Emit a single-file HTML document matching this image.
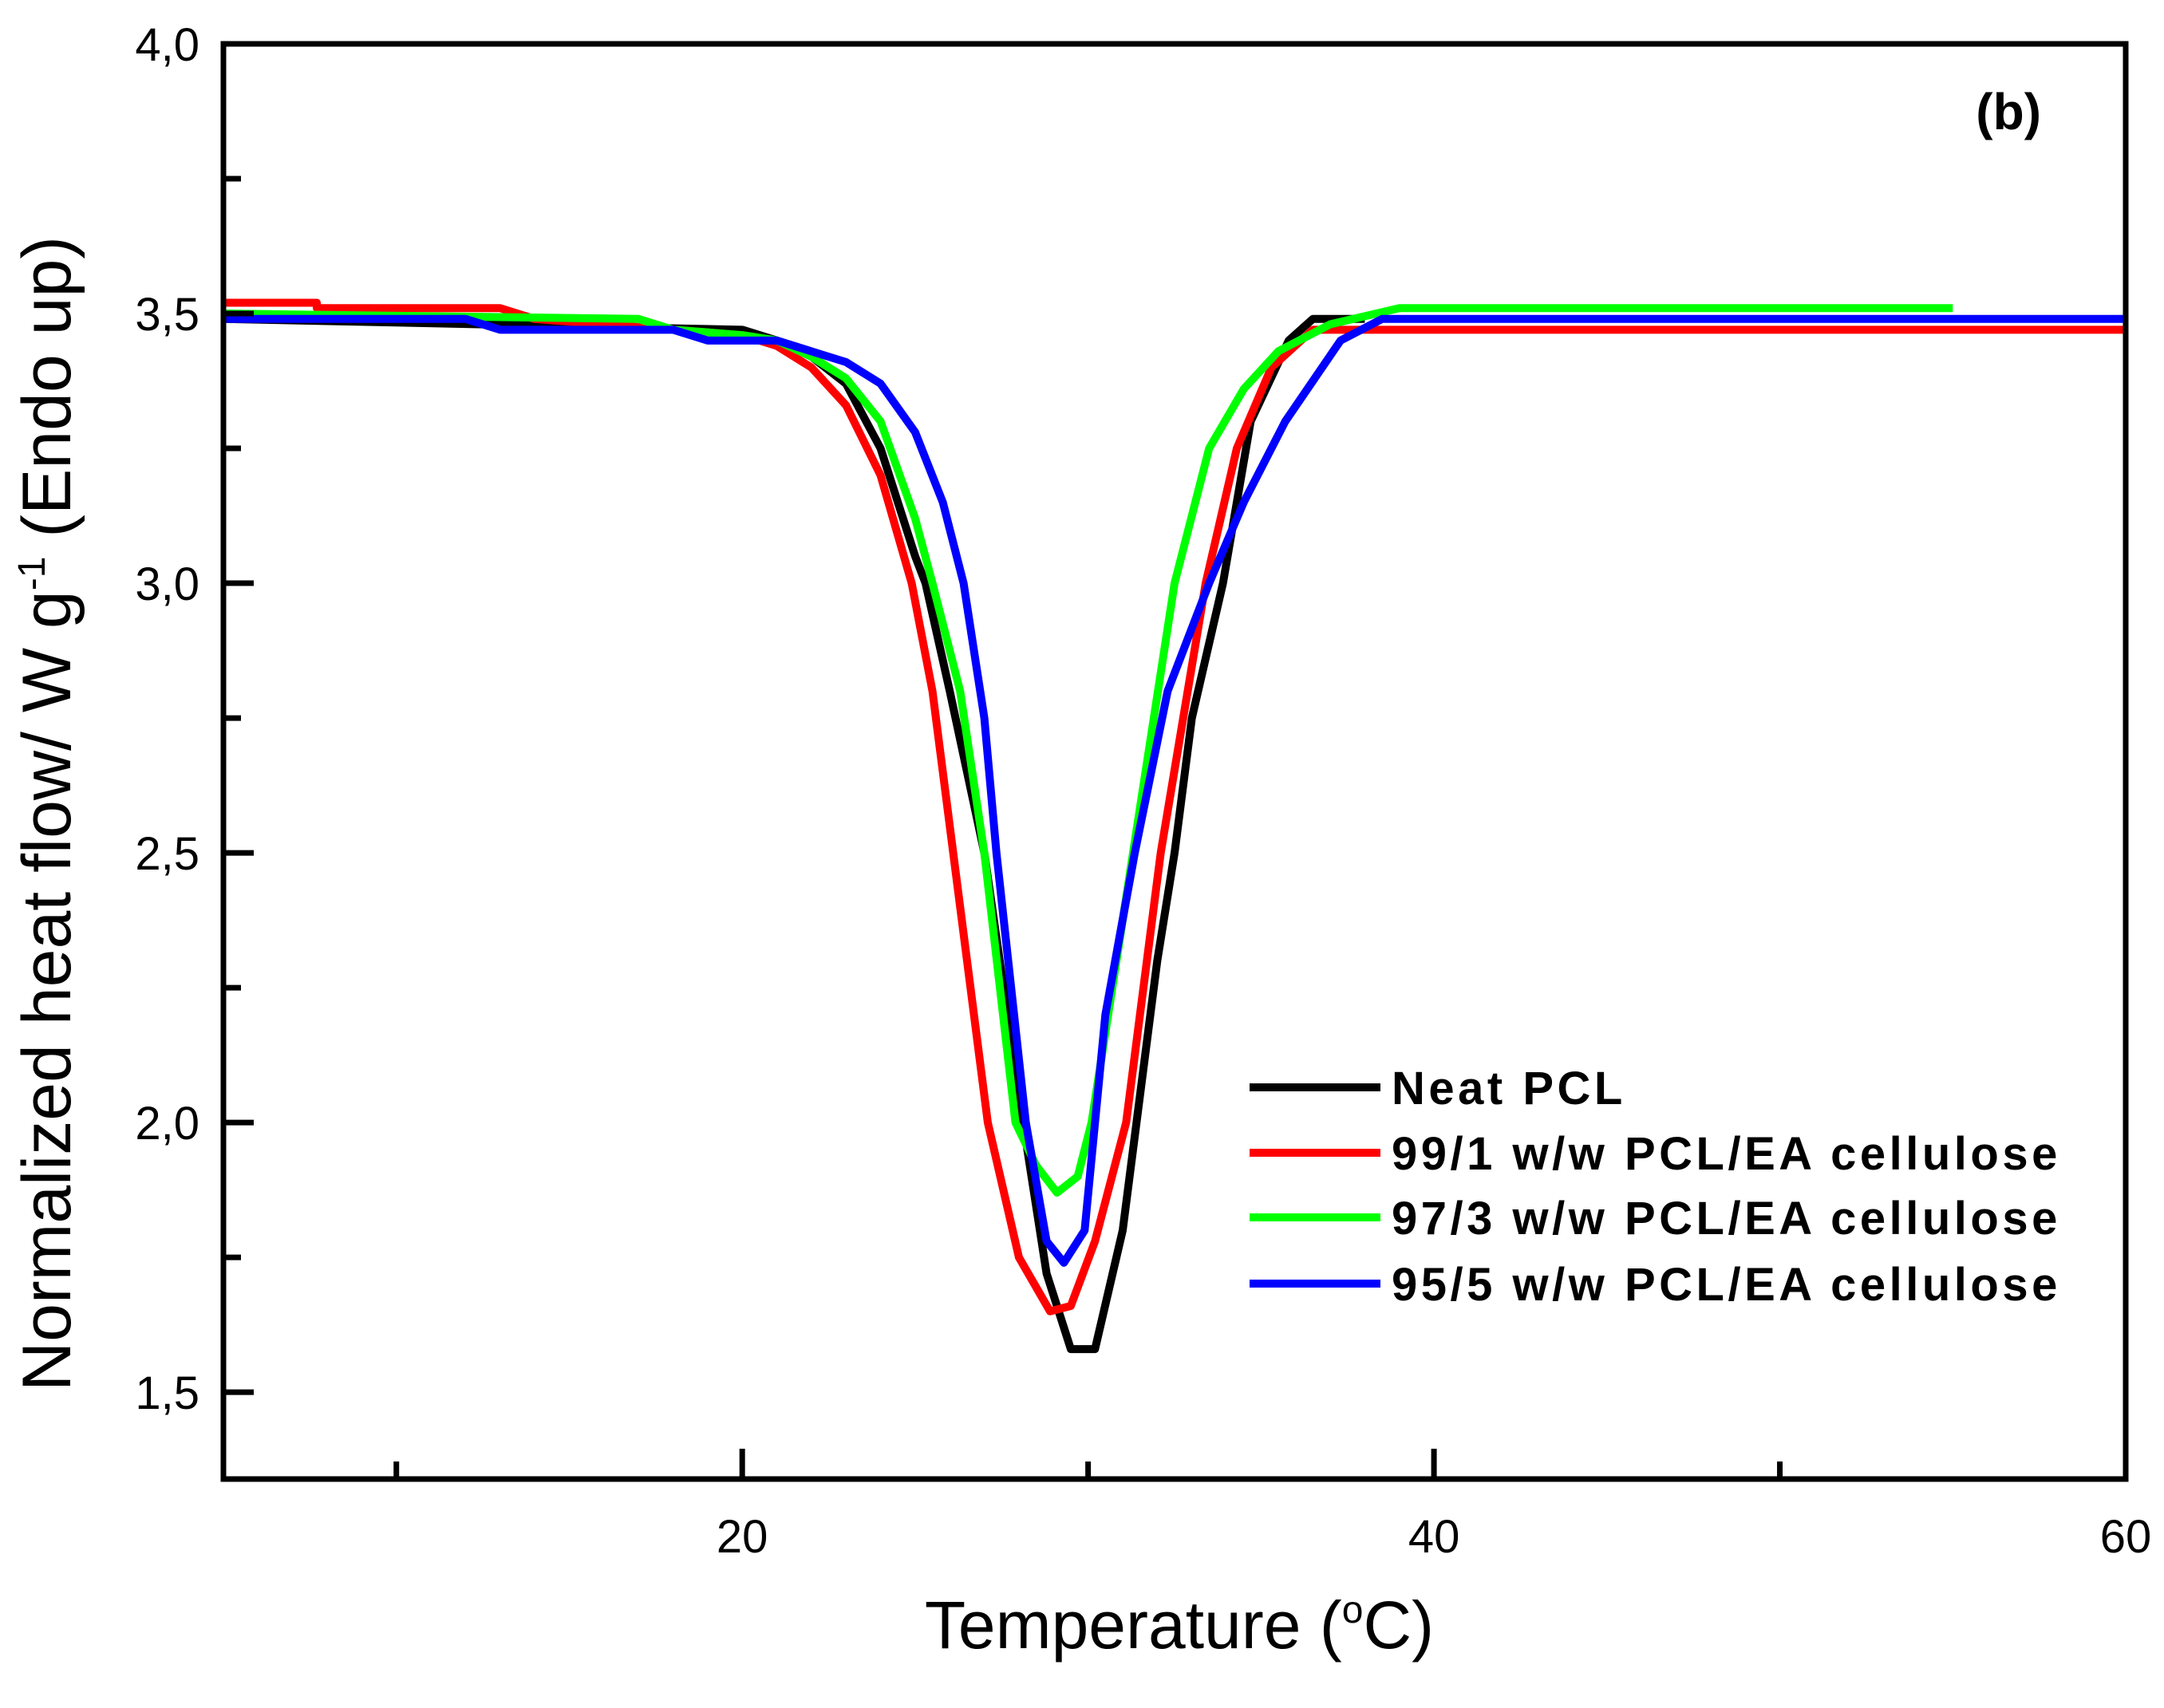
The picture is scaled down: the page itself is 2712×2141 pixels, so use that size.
<!DOCTYPE html>
<html><head><meta charset="utf-8"><style>
html,body{margin:0;padding:0;background:#fff;}
svg{display:block;font-family:"Liberation Sans",Arial,sans-serif;}
</style></head><body>
<svg id="chart" width="2712" height="2141" viewBox="0 0 2712 2141">
<g id="plot"></g>
</svg>
<script>
const xTicksMajor=[20,40,60];
const xTicksMinor=[10,30,50];
const yTicksMajor=[1.5,2.0,2.5,3.0,3.5,4.0];
const yTickLabels=["1,5","2,0","2,5","3,0","3,5","4,0"];
const yTicksMinor=[1.75,2.25,2.75,3.25,3.75];
const seriesNames=["Neat PCL","99/1 w/w PCL/EA cellulose","97/3 w/w PCL/EA cellulose","95/5 w/w PCL/EA cellulose"];
const seriesColors=["#000000","#ff0000","#00ff00","#0000ff"];
const blackT=[5,20,21,22,23,24,25,25.3,26,27,28,28.8,29.5,30.2,31,32,32.5,33,33.9,34.7,35.8,36.5,38];
const blackY=[3.49,3.47,3.45,3.42,3.37,3.25,3.05,3.0,2.8,2.5,2.05,1.72,1.58,1.58,1.8,2.3,2.5,2.75,3.0,3.3,3.45,3.49,3.49];
const redT=[5,7.7,7.7,13,14,20,21,22,23,24,24.9,25.5,26.1,27.1,28,28.9,29.5,30.2,31.1,32.1,33.4,34.3,35.3,36.5,38.5,60];
const redY=[3.52,3.52,3.51,3.51,3.49,3.46,3.44,3.4,3.33,3.2,3.0,2.8,2.5,2.0,1.75,1.65,1.66,1.78,2.0,2.5,3.0,3.25,3.4,3.47,3.47,3.47];
const greenT=[5,17,18,20,21,22,23,24,25,25.5,26.3,27,27.9,28.5,29.1,29.7,30.1,30.7,31.3,32.5,33.5,34.5,35.5,37,39,55];
const greenY=[3.5,3.49,3.47,3.46,3.45,3.42,3.38,3.3,3.12,3.0,2.8,2.5,2.0,1.92,1.87,1.9,2.0,2.25,2.5,3.0,3.25,3.36,3.43,3.48,3.51,3.51];
const blueT=[5,12,13,18,19,21,22,23,24,25,25.8,26.4,27,27.35,28.2,28.8,29.3,29.9,30.5,31.35,32.3,33.5,34.5,35.7,37.3,38.5,60];
const blueY=[3.49,3.49,3.47,3.47,3.45,3.45,3.43,3.41,3.37,3.28,3.15,3.0,2.75,2.5,2.0,1.78,1.74,1.8,2.2,2.5,2.8,3.0,3.15,3.3,3.45,3.49,3.49];
const seriesT=[blackT,redT,greenT,blueT];
const seriesY=[blackY,redY,greenY,blueY];

const L=280,R=2664,T=55,B=1854,xmin=5,xmax=60,ymin=1.339,ymax=4.0;
const sx=v=>L+(v-xmin)/(xmax-xmin)*(R-L);
const sy=v=>B-(v-ymin)/(ymax-ymin)*(B-T);
const NS="http://www.w3.org/2000/svg";
const g=document.getElementById('plot');
function mk(tag,attrs,parent){const e=document.createElementNS(NS,tag);for(const k in attrs)e.setAttribute(k,attrs[k]);(parent||g).appendChild(e);return e;}

[0,1,2,3].forEach(i=>{
  const pts=seriesT[i].map((t,j)=>sx(t)+","+sy(seriesY[i][j])).join(" ");
  const p=mk('polyline',{points:pts,fill:"none",stroke:seriesColors[i],"stroke-width":10,"stroke-linejoin":"round"});
  
  
});

const fr=mk('rect',{x:L,y:T,width:R-L,height:B-T,fill:"none",stroke:"#000","stroke-width":7});



xTicksMajor.forEach(v=>{
  const l=mk('line',{x1:sx(v),x2:sx(v),y1:B,y2:B-38,stroke:"#000","stroke-width":7});
  
  
  const t=mk('text',{x:sx(v),y:B+92,"text-anchor":"middle","font-size":58});
  t.textContent=v;
  
  
});
xTicksMinor.forEach(v=>{
  const l=mk('line',{x1:sx(v),x2:sx(v),y1:B,y2:B-22,stroke:"#000","stroke-width":7});
  
  
});
yTicksMajor.forEach((v,i)=>{
  const l=mk('line',{x1:L,x2:L+38,y1:sy(v),y2:sy(v),stroke:"#000","stroke-width":7});
  
  
  const t=mk('text',{x:L-30,y:sy(v)+21,"text-anchor":"end","font-size":58});
  t.textContent=yTickLabels[i];
  
  
});
yTicksMinor.forEach(v=>{
  const l=mk('line',{x1:L,x2:L+22,y1:sy(v),y2:sy(v),stroke:"#000","stroke-width":7});
  
  
});

const xt=mk('text',{x:1478,y:2066,"text-anchor":"middle","font-size":84});
xt.innerHTML='Temperature (<tspan dy="-32" font-size="48">o</tspan><tspan dy="32">C)</tspan>';


const yt=mk('text',{transform:"translate(88,1020) rotate(-90)","text-anchor":"middle","font-size":86});
yt.innerHTML='Normalized heat flow/ W g<tspan dy="-32" font-size="48">-1</tspan><tspan dy="32">  (Endo up)</tspan>';



const pl=mk('text',{x:2558,y:162,"text-anchor":"end","font-size":64,"font-weight":"bold"});
pl.textContent='(b)';



const legY=[1363,1445,1526,1609];
seriesNames.forEach((n,i)=>{
  const l=mk('line',{x1:1566,x2:1730,y1:legY[i],y2:legY[i],stroke:seriesColors[i],"stroke-width":10});
  
  
  const t=mk('text',{x:1744,y:legY[i]+21,"font-size":58,"font-weight":"bold","letter-spacing":"4.5"});
  t.textContent=n;
  
  
});
</script>
</body></html>
